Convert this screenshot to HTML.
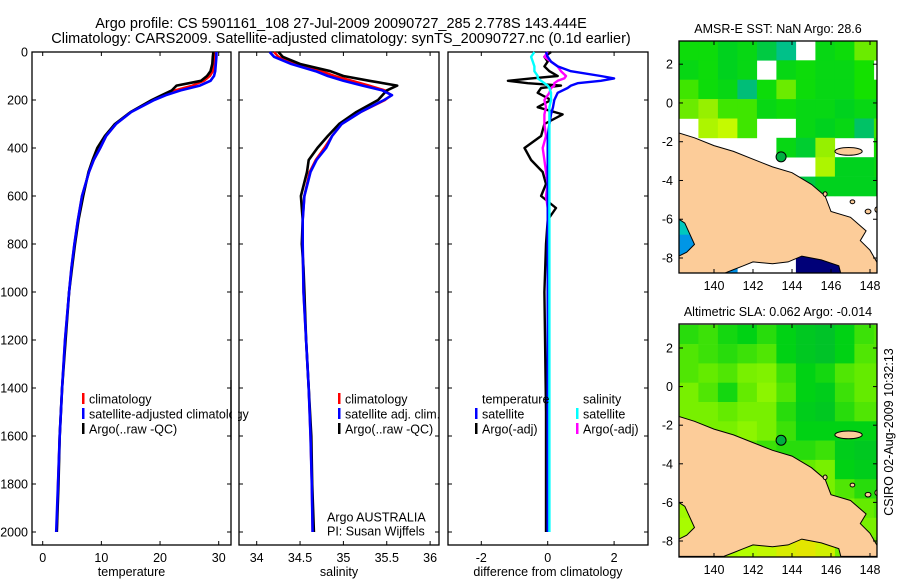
<!DOCTYPE html>
<html><head><meta charset="utf-8"><style>
body{margin:0;background:#fff;}
svg{display:block;font-family:"Liberation Sans",sans-serif;}
text{fill:#000;}
</style></head><body>
<svg id="fig" width="900" height="580" viewBox="0 0 900 580" xmlns="http://www.w3.org/2000/svg">
<rect width="900" height="580" fill="#fff"/>
<text x="341" y="28" font-size="14.5" text-anchor="middle">Argo profile: CS 5901161_108 27-Jul-2009 20090727_285 2.778S 143.444E</text>
<text x="341" y="43" font-size="14.5" text-anchor="middle">Climatology: CARS2009. Satellite-adjusted climatology: synTS_20090727.nc (0.1d earlier)</text>
<g id="g1"></g>
<g id="g2"></g>
<g id="g3"></g>
<g id="m1"></g>
<g id="m2"></g>
<text transform="translate(893,432) rotate(-90)" font-size="12.5" text-anchor="middle">CSIRO 02-Aug-2009 10:32:13</text>
</svg>
<script>
// ---- profile data ----
const depthP = [0,20,50,80,100,120,140,160,180,200,250,300,350,400,450,500,600,700,800,900,1000,1200,1400,1600,1800,2000];
const tempClim = [29.3,29.3,29.2,29.0,28.5,27.5,25.5,22.5,20.5,18.8,15.0,12.5,10.8,9.8,8.7,7.9,6.7,6.0,5.4,4.9,4.5,3.8,3.3,2.9,2.6,2.4];
const tempSat = [29.6,29.6,29.5,29.4,29.2,28.6,26.8,23.5,21.0,19.0,15.1,12.5,10.8,9.8,8.7,7.9,6.7,6.0,5.4,4.9,4.5,3.8,3.3,2.9,2.6,2.3];
const tempArgo = [29.1,29.0,28.9,28.6,28.0,27.0,22.8,22.0,20.3,18.6,15.0,12.3,10.6,9.3,8.5,7.8,6.9,6.1,5.5,5.0,4.5,3.9,3.3,2.9,2.7,2.4];
const salClim = [34.2,34.25,34.45,34.75,34.9,35.1,35.3,35.48,35.55,35.48,35.2,34.98,34.87,34.78,34.68,34.61,34.55,34.53,34.53,34.535,34.54,34.57,34.6,34.62,34.635,34.645];
const salSat = [34.15,34.2,34.4,34.68,34.82,35.0,35.22,35.45,35.56,35.47,35.2,34.98,34.87,34.8,34.69,34.62,34.55,34.53,34.53,34.535,34.54,34.57,34.6,34.62,34.635,34.645];
const salArgo = [34.25,34.3,34.5,34.85,35.0,35.3,35.62,35.5,35.45,35.4,35.15,34.95,34.82,34.7,34.6,34.58,34.51,34.53,34.52,34.54,34.55,34.57,34.6,34.63,34.64,34.66];
const depthD = [0,20,40,60,80,100,110,120,130,140,150,170,200,230,260,300,350,400,450,500,550,600,650,700,800,1000,1500,2000];
const dTempSat = [-0.05,0.0,0.1,0.3,0.7,1.6,2.0,1.6,0.9,0.7,0.6,0.3,0.2,0.16,0.1,0.05,0.0,0.0,0.0,0.0,0.0,0.0,0.0,0.0,0.0,0.0,0.0,0.0];
const dTempArgo = [0.1,-0.1,0.0,-0.1,0.05,0.3,-0.5,-1.2,-0.6,0.4,-0.2,-0.3,0.1,-0.3,0.45,-0.1,-0.2,-0.7,-0.5,-0.15,-0.05,-0.2,0.25,0.0,-0.05,-0.1,-0.05,-0.05];
const dSalSat = [-0.4,-0.5,-0.45,-0.4,-0.4,-0.3,-0.3,-0.2,-0.1,0.0,0.05,0.1,0.1,0.05,0.05,0.05,0.05,0.05,0.05,0.05,0.05,0.05,0.05,0.05,0.05,0.05,0.05,0.05];
const dSalArgo = [0.0,-0.1,0.1,0.3,0.4,0.55,0.5,0.3,0.2,0.2,0.1,0.05,-0.1,-0.05,-0.1,-0.1,-0.05,-0.15,-0.1,-0.05,0.0,-0.05,0.0,0.0,0.0,0.0,0.0,0.0];
const depthTicks = [0,200,400,600,800,1000,1200,1400,1600,1800,2000];
const tempTicks = [0,10,20,30];
const salTicks = [34,34.5,35,35.5,36];
const diffTicks = [-2,0,2];
// ---- map data ----
const mapLonTicks = [140,142,144,146,148];
const mapLatTicks = [2,0,-2,-4,-6,-8];
const sstGrid = [
 [29,29,28.8,28.9,28.6,28.1,null,28.9,29,29.3,29.3],
 [28.9,29,28.8,28.9,null,28.9,29,28.9,28.9,29.1,null],
 [29.2,29,28.9,28.3,29,29.3,29,28.9,28.9,29.1,29.1],
 [29.3,29.4,29.2,29.2,28.9,29,28.9,28.9,28.8,28.9,28.9],
 [null,29.5,29.6,29.2,null,null,28.9,28.8,28.9,28.4,29.2],
 [null,null,null,null,null,28.9,28.7,29.4,null,null,29.1],
 [null,null,null,null,null,null,null,29.5,28.8,28.8,28.9],
 [null,null,null,null,null,null,28.6,28.8,28.8,28.8,28.8],
 [null,null,null,null,null,null,null,null,null,null,null],
 [27.5,null,null,null,null,null,null,null,null,null,null],
 [26.5,null,null,null,null,null,null,null,null,null,null],
 [26.6,26.8,26.4,null,null,null,24,24,23.8,null,null]
];
const slaGrid = [
 [0.4,0.45,0.35,0.3,0.4,0.3,0.2,0.15,0.3,0.45,0.5],
 [0.5,0.45,0.4,0.45,0.5,0.3,0.2,0.15,0.3,0.5,0.5],
 [0.5,0.55,0.5,0.6,0.62,0.45,0.3,0.35,0.5,0.55,0.55],
 [0.6,0.5,0.35,0.55,0.65,0.5,0.3,0.25,0.45,0.55,0.55],
 [0.6,0.6,0.55,0.6,0.6,0.4,0.25,0.2,0.4,0.5,0.5],
 [0.65,0.6,0.6,0.65,0.6,0.45,0.3,0.3,0.3,0.3,0.3],
 [0.7,0.65,0.6,0.55,0.45,0.4,0.4,0.45,0.25,0.2,0.2],
 [0.7,0.7,0.65,0.6,0.55,0.5,0.55,0.6,0.3,0.25,0.25],
 [0.7,0.7,0.7,0.65,0.6,0.6,0.65,0.6,0.5,0.4,0.4],
 [0.7,0.7,0.7,0.7,0.7,0.7,0.7,0.65,0.6,0.55,0.5],
 [0.72,0.72,0.72,0.75,0.8,0.85,0.85,0.8,0.7,0.6,0.6],
 [0.7,0.7,0.72,0.75,0.8,0.88,0.92,0.85,0.6,0.55,0.55]
];
const argoLon = 143.44, argoLat = -2.78;

const NS="http://www.w3.org/2000/svg";
function mk(tag,attrs,parent){const e=document.createElementNS(NS,tag);for(const k in attrs)e.setAttribute(k,attrs[k]);parent.appendChild(e);return e;}
const yZ = z => 52 + z*0.24;
const xT = t => 42.7 + t*5.867;
const xS = s => 256.7 + (s-34)*86.7;
const xD = d => 547.7 + d*33.2;

function frame(g,x0,x1,y0,y1,xticks,xf,xlabel,ylabels){
  const r=mk('rect',{x:x0,y:y0,width:x1-x0,height:y1-y0,fill:'none',stroke:'#000','stroke-width':1.3},g);
  
  
  xticks.forEach(v=>{const x=xf(v);
    mk('line',{x1:x,x2:x,y1:y0,y2:y0+4,stroke:'#000'},g);
    mk('line',{x1:x,x2:x,y1:y1,y2:y1-4,stroke:'#000'},g);
    const t=mk('text',{x:x,y:y1+17,'font-size':12.5,'text-anchor':'middle'},g);t.textContent=String(v);
    
    
  });
  depthTicks.forEach(d=>{const y=yZ(d);
    mk('line',{x1:x0,x2:x0+4,y1:y,y2:y,stroke:'#000'},g);
    mk('line',{x1:x1,x2:x1-4,y1:y,y2:y,stroke:'#000'},g);
    if(ylabels){const t=mk('text',{x:x0-4,y:y+4.5,'font-size':12.5,'text-anchor':'end'},g);t.textContent=String(d);
      
      }
  });
  const xl=mk('text',{x:(x0+x1)/2,y:y1+31,'font-size':12.5,'text-anchor':'middle'},g);xl.textContent=xlabel;
  
  
}
function line(g,xs,zs,xf,color,w,name){
  const pts=xs.map((v,i)=>xf(v).toFixed(1)+','+yZ(zs[i]).toFixed(1)).join(' ');
  const p=mk('polyline',{points:pts,fill:'none',stroke:color,'stroke-width':w,'stroke-linejoin':'round'},g);
  
  
}
function legend(g,x,y,color,label,marker){
  if(marker){mk('rect',{x:x,y:y-6,width:2.5,height:11,fill:color},g);}
  const t=mk('text',{x:x+7,y:y+4.5,'font-size':12.5},g);t.textContent=label;
  
  
}
// panel 1
const g1=document.getElementById('g1');
frame(g1,32,231,52,545,tempTicks,xT,'temperature',true);
line(g1,tempClim,depthP,xT,'#f00',2.4,'temp-climatology-line');
line(g1,tempArgo,depthP,xT,'#000',2.6,'temp-argo-line');
line(g1,tempSat,depthP,xT,'#00f',2.6,'temp-satellite-line');
legend(g1,82,399,'#f00','climatology',true);
legend(g1,82,414,'#00f','satellite-adjusted climatology',true);
legend(g1,82,429,'#000','Argo(..raw -QC)',true);
mk('rect',{x:232,y:380,width:6,height:60,fill:'#fff'},g1);
mk('line',{x1:231,x2:231,y1:380,y2:440,stroke:'#000','stroke-width':1.3},g1);
// panel 2
const g2=document.getElementById('g2');
frame(g2,239,439,52,545,salTicks,xS,'salinity',false);
line(g2,salClim,depthP,xS,'#f00',2.4,'sal-climatology-line');
line(g2,salArgo,depthP,xS,'#000',2.6,'sal-argo-line');
line(g2,salSat,depthP,xS,'#00f',2.6,'sal-satellite-line');
legend(g2,338,399,'#f00','climatology',true);
legend(g2,338,414,'#00f','satellite adj. clim.',true);
legend(g2,338,429,'#000','Argo(..raw -QC)',true);
legend(g2,320,517,'#000','Argo AUSTRALIA',false);
legend(g2,320,531,'#000','PI: Susan Wijffels',false);
// panel 3
const g3=document.getElementById('g3');
frame(g3,448,648,52,545,diffTicks,xD,'difference from climatology',false);
line(g3,dTempArgo,depthD,xD,'#000',2.4,'diff-temp-argo-line');
line(g3,dSalArgo,depthD,xD,'#f0f',2.4,'diff-sal-argo-line');
line(g3,dTempSat,depthD,xD,'#00f',2.4,'diff-temp-satellite-line');
line(g3,dSalSat,depthD,xD,'#0ff',2.4,'diff-sal-satellite-line');
legend(g3,475,399,'#fff','temperature',false);
legend(g3,475,414,'#00f','satellite',true);
legend(g3,475,429,'#000','Argo(-adj)',true);
legend(g3,576,399,'#fff','salinity',false);
legend(g3,576,414,'#0ff','satellite',true);
legend(g3,576,429,'#f0f','Argo(-adj)',true);

// ---- maps ----
function lerpC(stops,v){
  if(v<=stops[0][0])return stops[0][1];
  for(let i=1;i<stops.length;i++){if(v<=stops[i][0]){const a=stops[i-1],b=stops[i];const f=(v-a[0])/(b[0]-a[0]);
    const c=a[1].map((x,k)=>Math.round(x+(b[1][k]-x)*f));return c;}}
  return stops[stops.length-1][1];
}
const sstStops=[[24,[0,0,120]],[25,[0,40,200]],[26.5,[0,150,230]],[27.5,[0,200,190]],[28.3,[0,190,120]],[28.8,[0,210,30]],[29.1,[20,225,0]],[29.4,[150,240,0]],[29.7,[220,255,0]]];
const slaStops=[[0,[0,180,60]],[0.3,[0,210,20]],[0.55,[100,235,0]],[0.75,[180,255,0]],[0.95,[235,225,0]]];
const landPoly=[[138.2,-1.55],[139,-1.8],[140,-2.2],[141,-2.5],[142,-2.9],[143,-3.3],[144,-3.6],[145,-4.2],[145.7,-4.8],[146,-5.6],[147,-5.9],[147.8,-6.6],[147.5,-7.1],[148,-7.6],[148.4,-8.3],[148.4,-8.8],[146.5,-8.8],[146.4,-8.4],[145.5,-8.1],[144.5,-7.9],[143.8,-8.2],[143,-8.3],[142,-8.2],[141.5,-8.4],[141,-8.6],[140.5,-8.8],[138.2,-8.8],[138.2,-7.9],[138.6,-7.7],[139,-7.3],[138.5,-6.2],[138.2,-6]];
function drawMap(id,top,bottom,lat2y,lat8y,grid,stops,title){
  const g=document.getElementById(id);
  const x0=679,x1=877;
  const xL=lon=>714+(lon-140)*19.5;
  const yL=lat=>lat2y+(2-lat)*(lat8y-lat2y)/10;
  const cid='clip'+id;
  const cp=mk('clipPath',{id:cid},g);mk('rect',{x:x0,y:top,width:x1-x0,height:bottom-top},cp);
  const cg=mk('g',{'clip-path':'url(#'+cid+')'},g);
  grid.forEach((row,r)=>row.forEach((v,c)=>{
    if(v===null)return;
    const lon=138.2+c, lat=3.2-r;
    const col=lerpC(stops,v);
    const cell=mk('rect',{x:xL(lon).toFixed(1),y:yL(lat).toFixed(1),width:19.7,height:((lat8y-lat2y)/10+0.3).toFixed(1),fill:'rgb('+col.join(',')+')'},cg);
    
    
  }));
  const lp=mk('polygon',{points:landPoly.map(p=>xL(p[0]).toFixed(1)+','+yL(p[1]).toFixed(1)).join(' '),fill:'#fccc99',stroke:'#000','stroke-width':1},cg);
  
  
  [[146.9,-2.5,0.7,0.2],[145.7,-4.7,0.1,0.12],[147.1,-5.1,0.12,0.1],[147.9,-5.6,0.15,0.12],[148.4,-5.5,0.15,0.15]].forEach(e=>{
    mk('ellipse',{cx:xL(e[0]),cy:yL(e[1]),rx:e[2]*19.5,ry:e[3]*19.4,fill:'#fccc99',stroke:'#000','stroke-width':1},cg);
  });
  const mkp=mk('circle',{cx:xL(argoLon),cy:yL(argoLat),r:5,fill:'#00b040',stroke:'#000','stroke-width':1},cg);
  
  
  mk('rect',{x:x0,y:top,width:x1-x0,height:bottom-top,fill:'none',stroke:'#000','stroke-width':1.3},g);
  mapLonTicks.forEach(v=>{const x=xL(v);
    mk('line',{x1:x,x2:x,y1:top,y2:top+4,stroke:'#000'},g);mk('line',{x1:x,x2:x,y1:bottom,y2:bottom-4,stroke:'#000'},g);
    const t=mk('text',{x:x,y:bottom+17,'font-size':12.5,'text-anchor':'middle'},g);t.textContent=String(v);
    
    
  });
  mapLatTicks.forEach(v=>{const y=yL(v);
    mk('line',{x1:x0,x2:x0+4,y1:y,y2:y,stroke:'#000'},g);mk('line',{x1:x1,x2:x1-4,y1:y,y2:y,stroke:'#000'},g);
    const t=mk('text',{x:x0-6,y:y+4.5,'font-size':12.5,'text-anchor':'end'},g);t.textContent=String(v);
    
    
  });
  const tt=mk('text',{x:778,y:top-8,'font-size':12.5,'text-anchor':'middle'},g);tt.textContent=title;
  
  
}
drawMap('m1',41,273,64.2,258,sstGrid,sstStops,'AMSR-E SST: NaN Argo: 28.6');
drawMap('m2',324,557,348,541,slaGrid,slaStops,'Altimetric SLA: 0.062 Argo: -0.014');
</script>
</body></html>
